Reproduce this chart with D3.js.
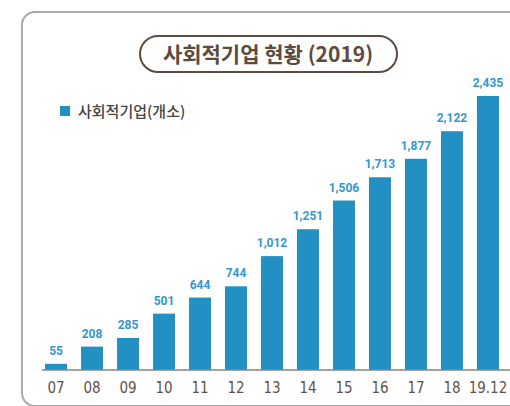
<!DOCTYPE html>
<html>
<head>
<meta charset="utf-8">
<script src="https://cdn.jsdelivr.net/npm/d3@7"></script>
<style>
  body { margin: 0; background: #fff; }
</style>
</head>
<body>
<div id="chart-area"></div>
<script>
// Data
var years = ["07", "08", "09", "10", "11", "12", "13", "14", "15", "16", "17", "18", "19.12"];
var counts = [55, 208, 285, 501, 644, 744, 1012, 1251, 1506, 1713, 1877, 2122, 2435];
var title = "사회적기업 현황 (2019)";
var legendLabel = "사회적기업(개소)";

var width = 510, height = 406;
var barColor = "#2390c3";
var numFont = "Roboto, 'Noto Sans', sans-serif";
var tickFont = "'Liberation Sans Narrow', 'DejaVu Sans Condensed', Roboto, sans-serif";
var korFont = "'Noto Sans CJK KR', 'Noto Sans', sans-serif";

var svg = d3.select("#chart-area")
    .append("svg")
    .attr("width", width)
    .attr("height", height);

// Outer frame
svg.append("rect")
    .attr("x", 22).attr("y", 12)
    .attr("width", 520).attr("height", 394)
    .attr("rx", 13).attr("ry", 13)
    .attr("fill", "none")
    .attr("stroke", "#a9a9a9")
    .attr("stroke-width", 2);

// Title pill
svg.append("rect")
    .attr("x", 140).attr("y", 36)
    .attr("width", 257).attr("height", 36)
    .attr("rx", 18).attr("ry", 18)
    .attr("fill", "#fff")
    .attr("stroke", "#5c4b3e")
    .attr("stroke-width", 2);
svg.append("text")
    .attr("x", 268).attr("y", 62)
    .attr("text-anchor", "middle")
    .attr("font-family", korFont)
    .attr("font-weight", "bold")
    .attr("font-size", "21px")
    .attr("fill", "#5c4b3e")
    .text(title);

// Legend
svg.append("rect")
    .attr("x", 60).attr("y", 106)
    .attr("width", 10).attr("height", 10)
    .attr("fill", barColor);
svg.append("text")
    .attr("x", 78).attr("y", 117)
    .attr("font-family", korFont)
    .attr("font-weight", 500)
    .attr("font-size", "15px")
    .attr("fill", "#444")
    .text(legendLabel);

// Scales
var baseY = 370;
var x = d3.scaleBand()
    .domain(years)
    .range([31, 513])
    .paddingInner(0.39)
    .paddingOuter(0.39);
var y = d3.scaleLinear()
    .domain([0, 2435])
    .range([baseY, 96]);

// Bars
var g = svg.append("g");
g.selectAll("rect.bar")
    .data(counts)
    .enter().append("rect")
    .attr("class", "bar")
    .attr("x", function(d, i) { return x(years[i]); })
    .attr("y", function(d) { return y(d); })
    .attr("width", x.bandwidth())
    .attr("height", function(d) { return baseY - y(d); })
    .attr("fill", barColor);

// Value labels
g.selectAll("text.value")
    .data(counts)
    .enter().append("text")
    .attr("class", "value")
    .attr("x", function(d, i) { return x(years[i]) + x.bandwidth() / 2; })
    .attr("y", function(d) { return y(d) - 9; })
    .attr("text-anchor", "middle")
    .attr("font-family", numFont)
    .attr("font-weight", "bold")
    .attr("font-size", "12px")
    .attr("fill", "#3497cf")
    .text(function(d) { return d3.format(",")(d); });

// X-axis
var xAxisCall = d3.axisBottom(x).tickSize(0).tickPadding(12);
var xAxis = svg.append("g")
    .attr("transform", "translate(0," + baseY + ")")
    .call(xAxisCall);
xAxis.select(".domain")
    .attr("d", "M42,0H510")
    .attr("stroke", "#8a8580")
    .attr("stroke-width", 1.5);
xAxis.selectAll("text")
    .attr("font-family", tickFont)
    .attr("font-size", "15px")
    .attr("fill", "#5e534b");
</script>
</body>
</html>
